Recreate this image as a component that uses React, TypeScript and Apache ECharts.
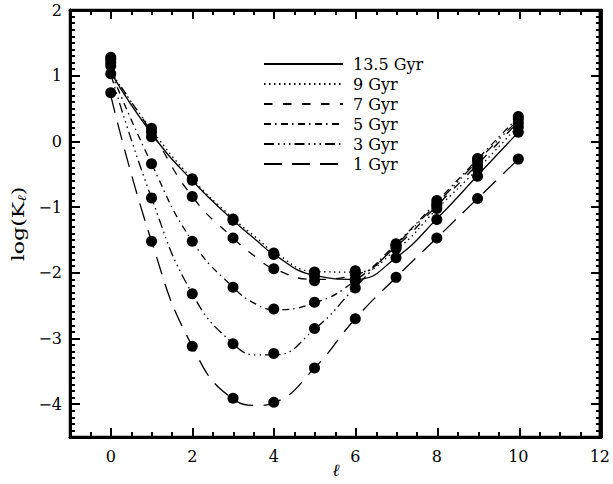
import React, { useEffect, useRef } from "react";
import * as echarts from "echarts";

// multipole index l
const ell = [0, 1, 2, 3, 4, 5, 6, 7, 8, 9, 10];
const seriesNames = ["13.5 Gyr", "9 Gyr", "7 Gyr", "5 Gyr", "3 Gyr", "1 Gyr"];

// data points log(K_l)
const points135 = [1.15, 0.07, -0.59, -1.2, -1.72, -2.05, -2.1, -1.77, -1.19, -0.53, 0.14];
const points9 = [1.28, 0.2, -0.57, -1.18, -1.7, -1.99, -1.97, -1.63, -1.02, -0.42, 0.22];
const points7 = [1.25, 0.14, -0.84, -1.47, -1.94, -2.12, -2.02, -1.6, -0.98, -0.36, 0.28];
const points5 = [1.2, -0.34, -1.52, -2.22, -2.55, -2.45, -2.12, -1.56, -0.9, -0.26, 0.38];
const points3 = [1.03, -0.86, -2.32, -3.08, -3.23, -2.85, -2.23, -1.58, -0.95, -0.3, 0.34];
const points1 = [0.74, -1.52, -3.12, -3.91, -3.97, -3.45, -2.7, -2.07, -1.47, -0.87, -0.27];

// fitted curves (x positions and values)
const fitX = [0, 1, 2, 3, 3.6, 4, 5, 6, 7, 8, 9, 10];
const fit135 = [1.05, 0.12, -0.6, -1.2, -1.52, -1.72, -2.04, -2.1, -1.77, -1.18, -0.52, 0.14];
const fit9 = [1.06, 0.18, -0.57, -1.17, -1.48, -1.68, -1.98, -1.99, -1.65, -1.03, -0.42, 0.24];
const fit7 = [1.06, 0.14, -0.84, -1.47, -1.78, -1.94, -2.1, -2.03, -1.6, -0.98, -0.35, 0.3];
const fit5 = [1.06, -0.34, -1.52, -2.22, -2.49, -2.56, -2.46, -2.12, -1.56, -0.92, -0.27, 0.37];
const fit3 = [1.03, -0.86, -2.32, -3.08, -3.25, -3.25, -2.86, -2.22, -1.58, -0.95, -0.3, 0.33];
const fit1 = [0.7, -1.52, -3.12, -3.92, -4.02, -3.98, -3.45, -2.7, -2.07, -1.47, -0.87, -0.27];

// axis ticks
const xMajorTicks = [0, 2, 4, 6, 8, 10, 12];
const yMajorTicks = [-4, -3, -2, -1, 0, 1, 2];

const FONT = "DejaVu Serif";
const X_MIN = -1;
const X_MAX = 12;
const Y_MIN = -4.5;
const Y_MAX = 2;

export default function App() {
  const ref = useRef<HTMLDivElement>(null);

  useEffect(() => {
    if (!ref.current) return;
    const chart = echarts.init(ref.current, null, { renderer: "svg" });
    const black = "#000";

    const fits = [fit135, fit9, fit7, fit5, fit3, fit1];
    const pts = [points135, points9, points7, points5, points3, points1];
    const dashes: any[] = [
      "solid",
      [1.5, 3.5],
      [8.5, 10.5],
      [7, 4, 1.5, 4.5],
      [10, 4, 1.5, 4, 1.5, 4, 1.5, 4],
      [18, 10],
    ];

    const fmt = (v: number) => String(v).replace("-", "\u2212");

    // tick positions: every 0.5 on x, every 0.1 on y (category axes without gap map linearly)
    const xCats: string[] = [];
    for (let i = -2; i <= 24; i++) xCats.push(String(i / 2));
    const yCats: string[] = [];
    for (let i = -45; i <= 20; i++) yCats.push(String(i / 10));

    const gridRect = { left: 70, top: 10, right: 12, bottom: 47 };
    const tickAxisX = (gi: number, pos: string, major: boolean) => ({
      type: "category",
      gridIndex: gi,
      position: pos,
      data: xCats,
      boundaryGap: false,
      axisLine: { show: true, onZero: false, lineStyle: { color: black, width: 2.5 } },
      axisLabel: { show: false },
      splitLine: { show: false },
      axisTick: {
        show: true,
        inside: true,
        length: major ? 9 : 5,
        interval: major ? (idx: number, val: string) => xMajorTicks.indexOf(Number(val)) >= 0 : 0,
        lineStyle: { color: black, width: 2 },
      },
    });
    const tickAxisY = (gi: number, pos: string, major: boolean) => ({
      type: "category",
      gridIndex: gi,
      position: pos,
      data: yCats,
      boundaryGap: false,
      axisLine: { show: true, onZero: false, lineStyle: { color: black, width: 2.5 } },
      axisLabel: { show: false },
      splitLine: { show: false },
      axisTick: {
        show: true,
        inside: true,
        length: major ? 10 : 5,
        interval: major ? (idx: number, val: string) => yMajorTicks.indexOf(Number(val)) >= 0 : 0,
        lineStyle: { color: black, width: 2 },
      },
    });

    const series: any[] = [];
    fits.forEach((f, k) => {
      series.push({
        name: seriesNames[k],
        type: "line",
        xAxisIndex: 0,
        yAxisIndex: 0,
        data: fitX.map((x, i) => [x, f[i]]),
        smooth: 0.5,
        symbol: "none",
        lineStyle: { color: black, width: 1.3, type: dashes[k] },
        itemStyle: { color: black },
        z: 2,
      });
    });
    pts.forEach((p, k) => {
      series.push({
        name: "pts " + seriesNames[k],
        type: "scatter",
        xAxisIndex: 0,
        yAxisIndex: 0,
        data: ell.map((x, i) => [x, p[i]]),
        symbol: "circle",
        symbolSize: 11,
        itemStyle: { color: black, opacity: 1 },
        z: 3,
      });
    });

    const titles: any[] = [
      {
        type: "text",
        x: 19,
        y: 224,
        rotation: Math.PI / 2,
        scaleX: 1.3,
        style: {
          text: "{a|log(K}{s|\u2113}{a|)}",
          align: "center",
          verticalAlign: "middle",
          fill: black,
          rich: {
            a: { fontFamily: FONT, fontSize: 17, lineHeight: 18, verticalAlign: "top", fill: black },
            s: { fontFamily: FONT, fontSize: 12, fontStyle: "italic", lineHeight: 12, padding: [9, 0, 0, 0], verticalAlign: "bottom", fill: black },
          },
        },
      },
      {
        type: "text",
        x: 336,
        y: 470,
        style: {
          text: "\u2113",
          align: "center",
          verticalAlign: "middle",
          fontFamily: FONT,
          fontSize: 17,
          fontStyle: "italic",
          fill: black,
        },
      },
    ];

    try {
      chart.setOption({
        animation: false,
        backgroundColor: "#fff",
        grid: [
          { ...gridRect, show: true, borderColor: black, borderWidth: 2.5 },
          { ...gridRect },
          { ...gridRect },
          { ...gridRect },
          { ...gridRect },
        ],
        xAxis: [
          {
            type: "value",
            gridIndex: 0,
            min: X_MIN,
            max: X_MAX,
            axisLine: { show: true, onZero: false, lineStyle: { color: black, width: 2.5 } },
            axisTick: { show: false },
            axisLabel: { show: true, customValues: xMajorTicks, formatter: fmt, margin: 11, color: black, fontFamily: FONT, fontSize: 16 },
            splitLine: { show: false },
          },
          tickAxisX(1, "bottom", false),
          tickAxisX(2, "bottom", true),
          tickAxisX(3, "top", false),
          tickAxisX(4, "top", true),
        ],
        yAxis: [
          {
            type: "value",
            gridIndex: 0,
            min: Y_MIN,
            max: Y_MAX,
            axisLine: { show: true, onZero: false, lineStyle: { color: black, width: 2.5 } },
            axisTick: { show: false },
            axisLabel: { show: true, customValues: yMajorTicks, formatter: fmt, margin: 8, color: black, fontFamily: FONT, fontSize: 16 },
            splitLine: { show: false },
          },
          tickAxisY(1, "left", false),
          tickAxisY(2, "left", true),
          tickAxisY(3, "right", false),
          tickAxisY(4, "right", true),
        ],
        legend: {
          orient: "vertical",
          left: 263,
          top: 56,
          padding: 0,
          itemWidth: 79,
          itemHeight: 14,
          itemGap: 4,
          data: seriesNames,
          itemStyle: { opacity: 0 },
          textStyle: { fontFamily: FONT, fontSize: 16, color: black, padding: [0, 0, 0, 5] },
          selectedMode: false,
        },
        graphic: titles,
        series,
      });
    } catch (e) {
      // keep going so that the rest still draws
    }

    return () => chart.dispose();
  }, []);

  return <div ref={ref} style={{ position: "absolute", left: 0, top: 0, width: 613, height: 484 }} />;
}
